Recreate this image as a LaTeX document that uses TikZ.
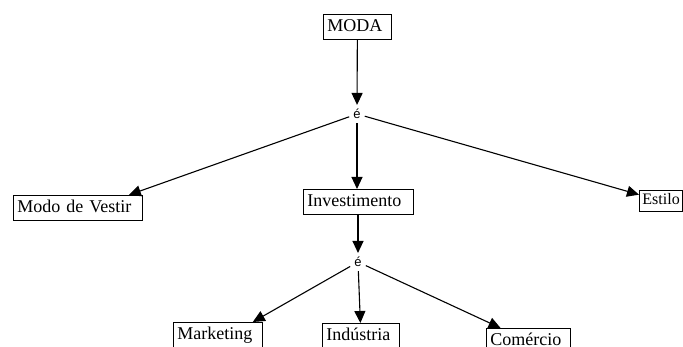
\documentclass[tikz,border=0pt]{standalone}
\usepackage{fontspec}
\setmainfont{Liberation Serif}
\newfontfamily\eSans{Liberation Sans}
\usetikzlibrary{positioning,arrows.meta}

\tikzset{
	caixa/.style={draw, line width=0.8pt, anchor=north west, align=left,
		font=\fontsize{18}{20}\selectfont, inner xsep=4pt, inner ysep=4pt,
		text height=13pt, text depth=4pt},
	liga/.style={inner sep=4pt, font=\eSans\fontsize{13}{15}\selectfont},
	seta/.style={line width=1.1pt, -{Triangle[length=12pt,width=11pt]}}
}

\begin{document}
\begin{tikzpicture}[x=1pt, y=-1pt]

	\path[use as bounding box, fill=white] (0,0) rectangle (683,347);

	% topo
	\node[caixa, text width=60pt] (moda) at (323,14) {MODA};
	\node[liga] (eModa) at (357,114) {é};

	% meio
	\node[caixa, text width=121pt] (vestir) at (13,195) {Modo de Vestir};
	\node[caixa, text width=102pt] (invest) at (303,189) {Investimento};
	\node[caixa, text width=37pt, inner xsep=3pt, inner ysep=3pt,
		font=\fontsize{16}{18}\selectfont, text height=11.5pt, text depth=3.5pt]
		(estilo) at (639,190) {Estilo};
	\node[liga] (eInvest) at (358,262) {é};

	% base
	\node[caixa, text width=81pt] (mkt) at (173,322) {Marketing};
	\node[caixa, text width=69pt] (ind) at (322,323) {Indústria};
	\node[caixa, text width=76pt] (com) at (486,328) {Comércio};

	\draw[seta] (moda) -- (eModa);
	\draw[seta]
		(eModa) -- ([xshift=-14pt]vestir.north east);
	\draw[seta]
		(eModa) -- (eModa |- invest.north);
	\draw[seta]
		(eModa) -- (estilo);

	\draw[seta] (invest.south -| eInvest) -- (eInvest);
	\draw[seta]
		(eInvest) -- ([xshift=-10pt]mkt.north east);
	\draw[seta]
		(eInvest) -- (ind);
	\draw[seta]
		(eInvest) -- (com);

\end{tikzpicture}
\end{document}
